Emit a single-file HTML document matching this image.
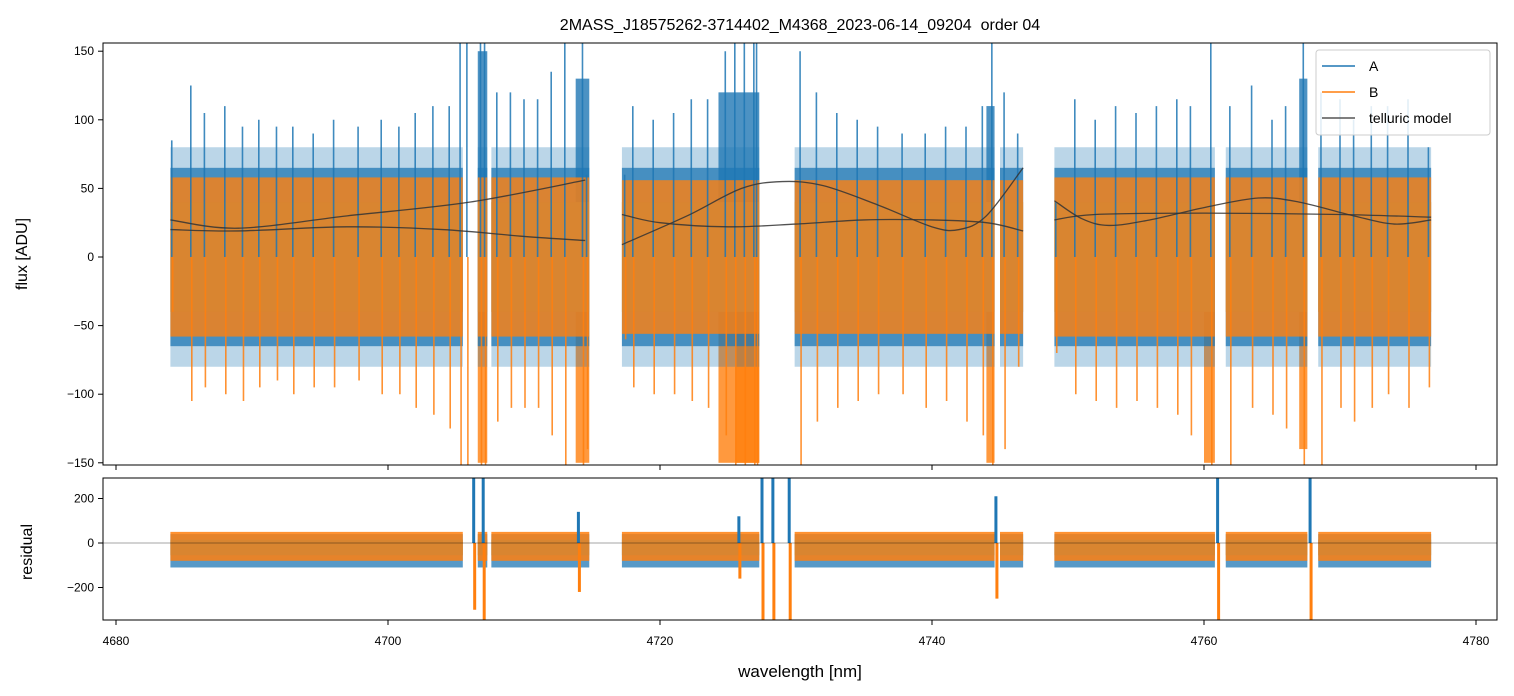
<!DOCTYPE html>
<html><head><meta charset="utf-8"><style>
body{margin:0;background:#fff;}
svg{display:block;font-family:"Liberation Sans","DejaVu Sans",sans-serif;}
</style></head><body>
<svg id="chart" width="1514" height="696" viewBox="0 0 1514 696">
<defs>
<clipPath id="ct"><rect x="103" y="43" width="1394" height="422"/></clipPath>
<clipPath id="cb"><rect x="103" y="478" width="1394" height="142"/></clipPath>
</defs>
<text x="800" y="30" text-anchor="middle" font-size="16" fill="#000" style="white-space:pre">2MASS_J18575262-3714402_M4368_2023-06-14_09204  order 04</text>
<g id="topg" clip-path="url(#ct)"></g>
<g id="botg" clip-path="url(#cb)"></g>
<rect x="103" y="43" width="1394" height="422" fill="none" stroke="#000" stroke-width="1"/>
<rect x="103" y="478" width="1394" height="142" fill="none" stroke="#000" stroke-width="1"/>
<g id="axes"></g>
<text x="27" y="254" text-anchor="middle" font-size="16" transform="rotate(-90 27 254)">flux [ADU]</text>
<text x="32" y="552" text-anchor="middle" font-size="16" transform="rotate(-90 32 552)">residual</text>
<text x="800" y="677" text-anchor="middle" font-size="17">wavelength [nm]</text>
<g>
<rect x="1316" y="50" width="174" height="85" rx="3" fill="#fff" fill-opacity="0.85" stroke="#ccc"/>
<line x1="1322" y1="66" x2="1355" y2="66" stroke="#1f77b4" stroke-width="1.5"/>
<text x="1369" y="71" font-size="14">A</text>
<line x1="1322" y1="92" x2="1355" y2="92" stroke="#ff7f0e" stroke-width="1.5"/>
<text x="1369" y="97" font-size="14">B</text>
<line x1="1322" y1="118" x2="1355" y2="118" stroke="#555" stroke-width="1.5"/>
<text x="1369" y="123" font-size="14">telluric model</text>
</g>
</svg>
<script>
// data
const segments = [[4684.0, 4714.8], [4717.2, 4746.7], [4749.0, 4776.7]];
const gaps = [[4705.5, 4706.6], [4707.3, 4707.6], [4727.3, 4729.9], [4744.6, 4745.0], [4760.8, 4761.6], [4767.6, 4768.4]];
const bandA = [65, 65, 65];
const bandB = [58, 56, 58];
const coreB = [40, 40, 40];
const regionW0 = [4706.6, 4713.8, 4724.3, 4744.0, 4767.0];
const regionW1 = [4707.3, 4714.8, 4727.3, 4744.6, 4767.6];
const regionATop = [150, 130, 120, 110, 130];
const regionBBot = [-150, -150, -150, -150, -140];
const regionBW0 = [4725.6, 4760.0];
const regionBW1 = [4727.3, 4760.8];
const regionBTop = [40, 40];
const regionBBotB = [-150, -150];
const tell1W = [4684,4689,4697,4706,4714.5, 4717.2,4722,4726,4729,4732,4736,4740,4742,4744,4746.7, 4749,4751,4753,4756,4760,4764,4767,4771,4774,4776.7];
const tell1V = [27,21,30,40,56, 9,30,50,55,52,38,22,20,30,65, 41,28,23,27,36,43,40,30,24,27];
const tell1Seg = [0,0,0,0,0, 1,1,1,1,1,1,1,1,1,1, 2,2,2,2,2,2,2,2,2,2];
const tell2W = [4684,4689,4697,4704,4710,4714.5, 4717.2,4720,4725,4730,4735,4740,4744,4746.7, 4749,4752,4760,4770,4776.7];
const tell2V = [20,19,22,20,15,12, 31,25,22,24,27,27,25,19, 27,31,32,31,29];
const tell2Seg = [0,0,0,0,0,0, 1,1,1,1,1,1,1,1, 2,2,2,2,2];
const spikeW = [4684.1,4685.5,4686.5,4688,4689.3,4690.5,4691.8,4693,4694.5,4696,4697.8,4699.5,4700.8,4702,4703.3,4704.5,4705.3,4705.8,4706.8,4707.1,4708,4709,4710,4711,4712,4713,4714.3,4714.6,4717.4,4718,4719.5,4721,4722.3,4723.5,4724.8,4725.5,4726.2,4726.9,4727.1,4730.3,4731.5,4733,4734.5,4736,4737.8,4739.5,4741,4742.5,4743.7,4744.4,4745.3,4746.3,4749.1,4750.5,4752,4753.5,4755,4756.5,4758,4759,4760.5,4761.9,4763.5,4765,4766,4767.3,4768.6,4770,4771,4772.3,4773.5,4775,4776.5];
const spikeA = [85,125,105,110,95,100,95,95,90,100,95,100,95,105,110,110,160,160,160,160,120,120,115,115,135,160,160,60,60,110,100,105,115,115,150,160,160,160,160,150,120,105,100,95,90,90,95,95,110,160,120,90,40,115,100,110,105,110,115,110,160,110,125,100,110,160,120,115,100,110,110,115,80];
const spikeB = [-40,-105,-95,-100,-105,-95,-90,-100,-95,-95,-90,-100,-100,-110,-115,-125,-155,-155,-155,-155,-120,-110,-110,-110,-130,-155,-155,-140,-60,-95,-100,-100,-105,-110,-130,-155,-155,-155,-155,-155,-120,-110,-105,-100,-100,-110,-105,-120,-130,-155,-140,-80,-70,-100,-105,-110,-105,-110,-115,-130,-155,-155,-110,-115,-125,-155,-155,-110,-120,-110,-100,-110,-95];
const resSpikeW = [4706.3,4707.0,4714.0,4725.8,4727.5,4728.3,4729.5,4744.7,4761.0,4767.8];
const resSpikeA = [300,300,140,120,300,300,300,210,300,300];
const resSpikeB = [-300,-350,-220,-160,-350,-350,-350,-250,-350,-350];
const xTicks = [4680,4700,4720,4740,4760,4780];
const yTicksTop = [150,100,50,0,-50,-100,-150];
const yTicksBot = [200,0,-200];

const NS = "http://www.w3.org/2000/svg";
const xs = w => 116 + (w - 4680) * 13.6;
const yt = v => 257 - v * 1.372;
const yb = v => 543 - v * 0.2225;
function mk(tag, attrs, parent){const e=document.createElementNS(NS,tag);for(const k in attrs)e.setAttribute(k,attrs[k]);parent.appendChild(e);return e;}
const topG = document.getElementById('topg'), botG = document.getElementById('botg'), axesG = document.getElementById('axes');

function pieces(s){
  let out=[[s[0],s[1]]];
  gaps.forEach(g=>{out=out.flatMap(p=>{if(g[1]<=p[0]||g[0]>=p[1])return[p];const r=[];if(g[0]>p[0])r.push([p[0],g[0]]);if(g[1]<p[1])r.push([g[1],p[1]]);return r;});});
  return out;
}
regionW0.forEach((w0,i)=>{
  let r=mk('rect',{x:xs(w0),y:yt(regionATop[i]),width:xs(regionW1[i])-xs(w0),height:yt(0)-yt(regionATop[i]),fill:'#1f77b4','fill-opacity':0.8},topG);
  
  
  r=mk('rect',{x:xs(w0),y:yt(0),width:xs(regionW1[i])-xs(w0),height:yt(regionBBot[i])-yt(0),fill:'#ff7f0e','fill-opacity':0.8},topG);
  
  
});
regionBW0.forEach((w0,i)=>{
  const r=mk('rect',{x:xs(w0),y:yt(regionBTop[i]),width:xs(regionBW1[i])-xs(w0),height:yt(regionBBotB[i])-yt(regionBTop[i]),fill:'#ff7f0e','fill-opacity':0.8},topG);
  
  
});
segments.forEach((s,i)=>{
  pieces(s).forEach(p=>{
    const w=xs(p[1])-xs(p[0]);
    let r=mk('rect',{x:xs(p[0]),y:yt(bandA[i]+15),width:w,height:yt(-bandA[i]-15)-yt(bandA[i]+15),fill:'#1f77b4','fill-opacity':0.3},topG);
    
    
    r=mk('rect',{x:xs(p[0]),y:yt(bandA[i]),width:w,height:yt(-bandA[i])-yt(bandA[i]),fill:'#1f77b4','fill-opacity':0.75},topG);
    
    
    r=mk('rect',{x:xs(p[0]),y:yt(bandB[i]),width:w,height:yt(-bandB[i])-yt(bandB[i]),fill:'#ff7f0e','fill-opacity':0.8},topG);
    
    
    r=mk('rect',{x:xs(p[0]),y:yt(coreB[i]),width:w,height:yt(-coreB[i])-yt(coreB[i]),fill:'#d98530'},topG);
    
    
    r=mk('rect',{x:xs(p[0]),y:yb(40),width:w,height:yb(-110)-yb(40),fill:'#1f77b4','fill-opacity':0.75},botG);
    
    
    r=mk('rect',{x:xs(p[0]),y:yb(50),width:w,height:yb(-80)-yb(50),fill:'#ff7f0e','fill-opacity':0.85},botG);
    
    
    r=mk('rect',{x:xs(p[0]),y:yb(15),width:w,height:yb(-55)-yb(15),fill:'#d98530'},botG);
    
    
  });
});
spikeW.forEach((w,i)=>{
  let l=mk('line',{x1:xs(w),x2:xs(w),y1:yt(0),y2:yt(spikeA[i]),stroke:'#1f77b4','stroke-width':1.6,'stroke-opacity':0.85},topG);
  
  
  l=mk('line',{x1:xs(w)+1,x2:xs(w)+1,y1:yt(0),y2:yt(spikeB[i]),stroke:'#ff7f0e','stroke-width':1.6,'stroke-opacity':0.85},topG);
  
  
});
resSpikeW.forEach((w,i)=>{
  let l=mk('line',{x1:xs(w),x2:xs(w),y1:yb(0),y2:yb(resSpikeA[i]),stroke:'#1f77b4','stroke-width':3},botG);
  
  
  l=mk('line',{x1:xs(w)+1,x2:xs(w)+1,y1:yb(0),y2:yb(resSpikeB[i]),stroke:'#ff7f0e','stroke-width':3},botG);
  
  
});
function drawModel(W,V,S,name){
  [0,1,2].forEach(sg=>{
    const pts=W.map((w,i)=>S[i]===sg?[xs(w),yt(V[i])]:null).filter(Boolean);
    let d='M'+pts[0][0]+','+pts[0][1];
    for(let i=0;i<pts.length-1;i++){
      const p0=pts[Math.max(0,i-1)],p1=pts[i],p2=pts[i+1],p3=pts[Math.min(pts.length-1,i+2)];
      d+=' C'+(p1[0]+(p2[0]-p0[0])/6)+','+(p1[1]+(p2[1]-p0[1])/6)+' '+(p2[0]-(p3[0]-p1[0])/6)+','+(p2[1]-(p3[1]-p1[1])/6)+' '+p2[0]+','+p2[1];
    }
    const p=mk('path',{d:d,fill:'none',stroke:'#333','stroke-width':1.3,'stroke-opacity':0.85},topG);
    
    
  });
}
drawModel(tell1W,tell1V,tell1Seg,'telluric-model-a');
drawModel(tell2W,tell2V,tell2Seg,'telluric-model-b');
let zl=mk('line',{x1:103,x2:1497,y1:yb(0),y2:yb(0),stroke:'#000','stroke-width':0.6,'stroke-opacity':0.7},botG);


xTicks.forEach(t=>{
  const x=xs(t);
  let l=mk('line',{x1:x,x2:x,y1:465,y2:470,stroke:'#000'},axesG);
  
  
  l=mk('line',{x1:x,x2:x,y1:620,y2:625,stroke:'#000'},axesG);
  
  
  const tx=mk('text',{x:x,y:645,'text-anchor':'middle','font-size':12},axesG);
  tx.textContent=t;
  
  
});
yTicksTop.forEach(t=>{
  const y=yt(t);
  let l=mk('line',{x1:98,x2:103,y1:y,y2:y,stroke:'#000'},axesG);
  
  
  const tx=mk('text',{x:94,y:y+4,'text-anchor':'end','font-size':12},axesG);
  tx.textContent=t<0?'\u2212'+(-t):t;
  
  
});
yTicksBot.forEach(t=>{
  const y=yb(t);
  let l=mk('line',{x1:98,x2:103,y1:y,y2:y,stroke:'#000'},axesG);
  
  
  const tx=mk('text',{x:94,y:y+4,'text-anchor':'end','font-size':12},axesG);
  tx.textContent=t<0?'\u2212'+(-t):t;
  
  
});
</script>
</body></html>
